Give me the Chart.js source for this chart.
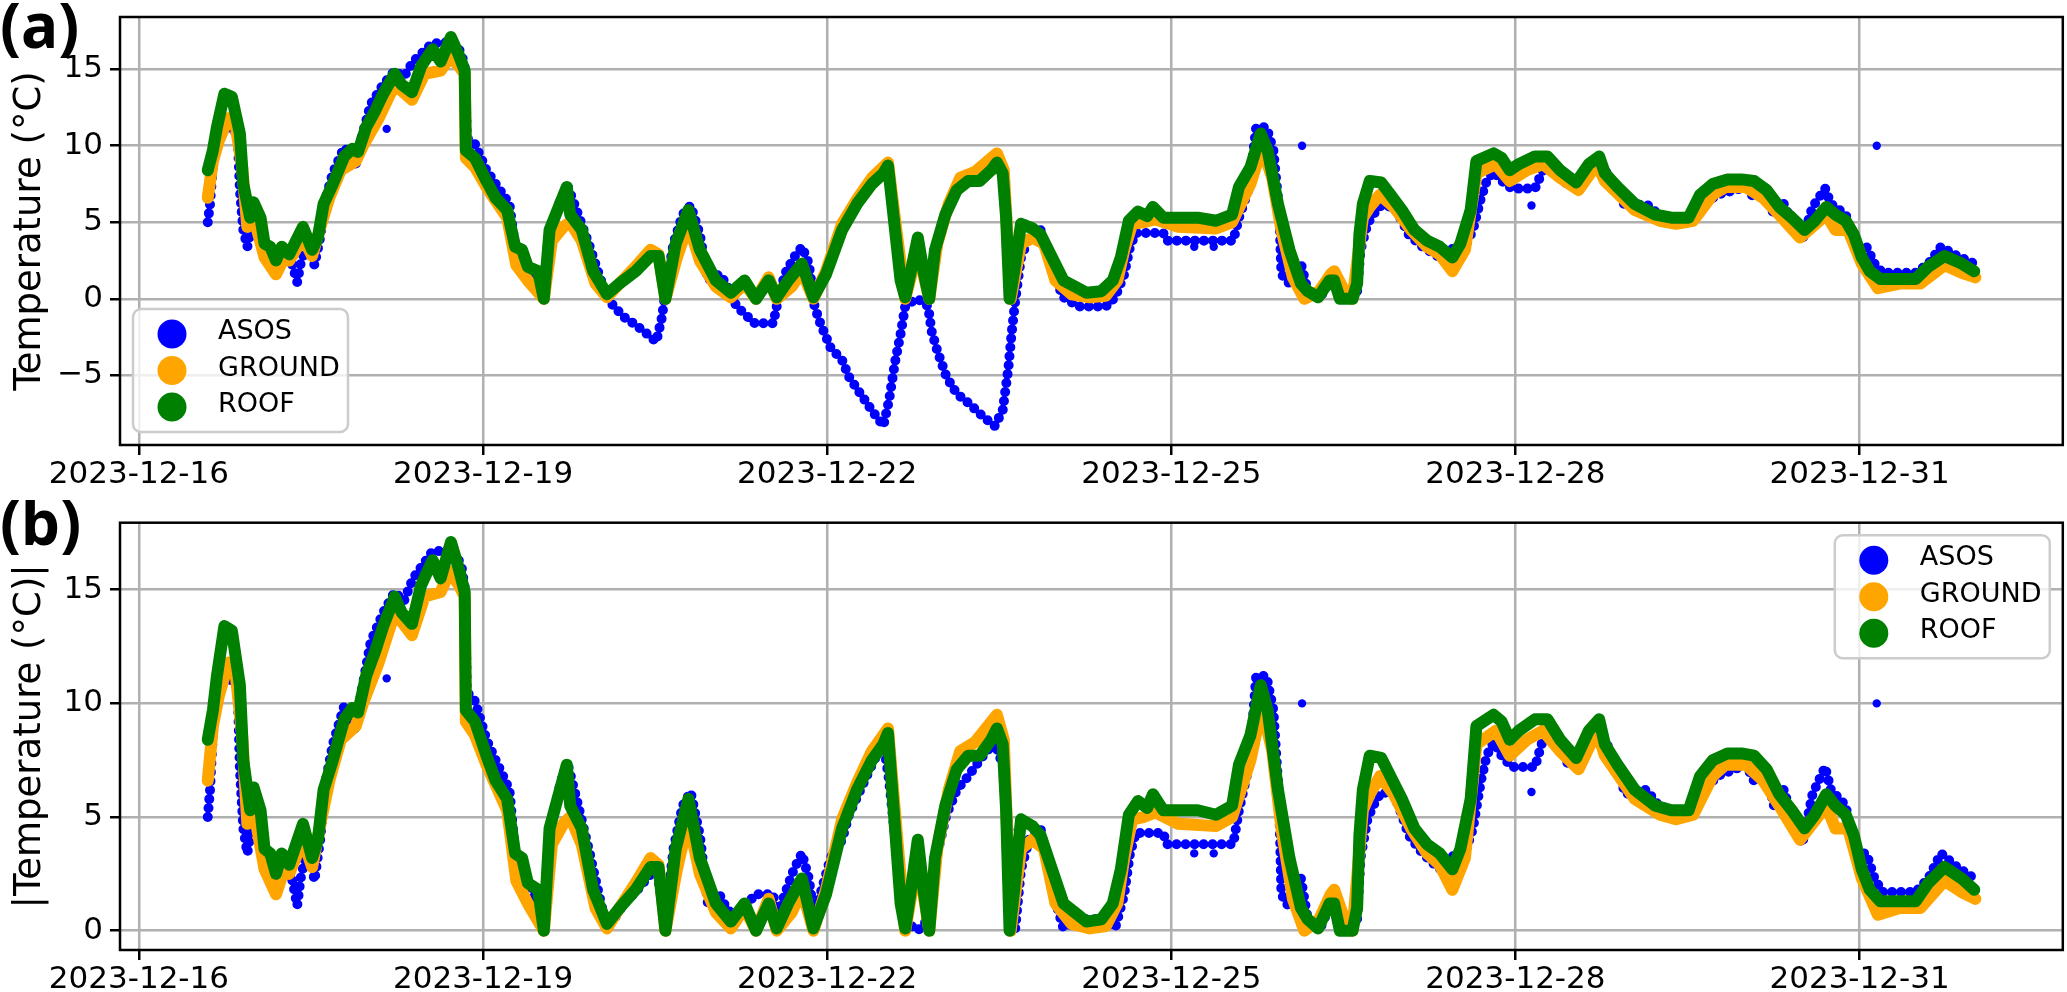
<!DOCTYPE html>
<html>
<head>
<meta charset="utf-8">
<script src="https://cdn.jsdelivr.net/npm/chart.js@4.4.0/dist/chart.umd.min.js"></script>
<style>
body { margin: 0; background: #fff; }
#wrap { position: relative; width: 2067px; height: 992px; }
canvas { position: absolute; left: 0; }
</style>
</head>
<body>
<div id="wrap">
<canvas id="chartA" width="2067" height="500" style="top:0px"></canvas>
<canvas id="chartB" width="2067" height="492" style="top:500px"></canvas>
</div>
<script>
// x values are days since 2023-12-16 00:00
var tickDays = [0, 3, 6, 9, 12, 15];
var tickLabels = ['2023-12-16', '2023-12-19', '2023-12-22', '2023-12-25', '2023-12-28', '2023-12-31'];
var yTicksA = [-5, 0, 5, 10, 15];
var yTicksB = [0, 5, 10, 15];

var roofDays = [0.60, 0.645, 0.68, 0.745, 0.81, 0.88, 0.91, 0.97, 1.0, 1.06, 1.095, 1.145, 1.195, 1.245, 1.31, 1.43, 1.51, 1.56, 1.61, 1.69,
    1.79, 1.86, 1.91, 1.98, 2.06, 2.13, 2.23, 2.29, 2.38, 2.46, 2.56, 2.63, 2.72, 2.79, 2.84, 2.85, 2.93, 3.03, 3.11, 3.21,
    3.28, 3.34, 3.39, 3.48, 3.53, 3.58, 3.66, 3.73, 3.76, 3.86, 3.96, 4.08, 4.19, 4.33, 4.46, 4.53, 4.59, 4.68, 4.79, 4.89,
    5.03, 5.16, 5.28, 5.38, 5.49, 5.56, 5.66, 5.78, 5.88, 5.99, 6.13, 6.26, 6.39, 6.49, 6.53, 6.58, 6.64, 6.68, 6.73, 6.79,
    6.84, 6.89, 6.94, 7.03, 7.13, 7.23, 7.33, 7.43, 7.48, 7.53, 7.56, 7.59, 7.63, 7.69, 7.79, 7.86, 7.96, 8.06, 8.16, 8.26,
    8.39, 8.49, 8.56, 8.63, 8.71, 8.79, 8.84, 8.93, 9.06, 9.23, 9.39, 9.53, 9.59, 9.69, 9.78, 9.84, 9.93, 10.03, 10.13, 10.19,
    10.28, 10.38, 10.42, 10.47, 10.58, 10.62, 10.64, 10.67, 10.73, 10.83, 10.91, 11.01, 11.12, 11.23, 11.34, 11.45, 11.52, 11.61, 11.66, 11.81,
    11.88, 11.95, 12.03, 12.17, 12.28, 12.39, 12.53, 12.64, 12.73, 12.78, 12.89, 13.04, 13.22, 13.36, 13.51, 13.61, 13.72, 13.85, 13.97, 14.08,
    14.19, 14.30, 14.41, 14.52, 14.61, 14.71, 14.79, 14.88, 14.95, 15.02, 15.09, 15.18, 15.35, 15.49, 15.60, 15.74, 15.89, 16.0];
var roofTemps = [8.4, 9.7, 11.2, 13.4, 13.2, 10.8, 7.5, 5.3, 6.3, 5.3, 3.6, 3.4, 2.5, 3.4, 2.9, 4.7, 3.2, 4.0, 6.2, 7.5,
    9.3, 9.8, 9.6, 11.2, 12.3, 13.4, 14.7, 14.0, 13.5, 15.2, 16.3, 15.5, 17.1, 15.9, 14.9, 9.7, 9.2, 7.7, 6.6, 5.8,
    3.4, 3.2, 2.1, 1.8, 0.0, 4.5, 6.0, 7.3, 5.5, 4.5, 1.8, 0.3, 1.0, 1.8, 2.8, 2.8, 0.0, 3.6, 5.8, 3.2,
    1.2, 0.4, 1.2, 0.0, 1.2, 0.1, 1.2, 2.3, 0.1, 1.6, 4.5, 6.2, 7.5, 8.2, 8.7, 5.3, 1.2, 0.1, 1.8, 4.0,
    1.8, 0.0, 3.2, 5.5, 7.1, 7.7, 7.7, 8.4, 8.9, 8.2, 5.3, 0.0, 1.8, 4.9, 4.6, 4.2, 2.7, 1.2, 0.8, 0.4,
    0.5, 1.2, 2.7, 5.1, 5.7, 5.4, 6.0, 5.3, 5.3, 5.3, 5.1, 5.5, 7.3, 8.6, 10.8, 9.7, 6.2, 3.2, 1.0, 0.5,
    0.1, 1.2, 1.2, 0.0, 0.0, 1.0, 4.2, 6.2, 7.7, 7.6, 6.8, 5.8, 4.5, 3.8, 3.4, 2.7, 3.6, 5.8, 9.0, 9.5,
    9.2, 8.4, 8.8, 9.3, 9.3, 8.4, 7.6, 8.8, 9.3, 8.2, 7.3, 6.2, 5.5, 5.3, 5.3, 6.8, 7.5, 7.8, 7.8, 7.7,
    7.1, 6.0, 5.3, 4.5, 5.1, 6.0, 5.5, 5.1, 4.2, 2.7, 1.8, 1.3, 1.3, 1.3, 2.1, 2.8, 2.3, 1.8];

var groundDays = [0.60, 0.645, 0.695, 0.78, 0.845, 0.90, 0.945, 0.995, 1.095, 1.195, 1.26, 1.31, 1.43, 1.51, 1.59, 1.66, 1.76, 1.89, 1.96, 2.09,
    2.23, 2.38, 2.49, 2.63, 2.71, 2.79, 2.84, 2.85, 2.93, 3.03, 3.21, 3.29, 3.39, 3.53, 3.60, 3.70, 3.76, 3.86, 3.98, 4.08,
    4.19, 4.33, 4.46, 4.53, 4.59, 4.69, 4.79, 4.89, 5.03, 5.16, 5.28, 5.38, 5.49, 5.56, 5.69, 5.78, 5.88, 5.99, 6.13, 6.26,
    6.39, 6.53, 6.59, 6.68, 6.79, 6.89, 6.96, 7.06, 7.16, 7.29, 7.48, 7.54, 7.60, 7.69, 7.79, 7.89, 7.99, 8.13, 8.29, 8.43,
    8.53, 8.59, 8.66, 8.76, 8.86, 9.06, 9.39, 9.53, 9.69, 9.79, 9.88, 9.96, 10.06, 10.16, 10.29, 10.39, 10.42, 10.51, 10.58, 10.67,
    10.73, 10.82, 10.94, 11.09, 11.23, 11.34, 11.45, 11.56, 11.66, 11.83, 11.95, 12.10, 12.24, 12.39, 12.55, 12.71, 12.78, 13.04, 13.26, 13.40,
    13.55, 13.72, 13.83, 14.01, 14.16, 14.30, 14.48, 14.62, 14.71, 14.79, 14.90, 15.02, 15.16, 15.35, 15.53, 15.74, 15.89, 16.01];
var groundTemps = [6.6, 9.0, 10.3, 11.8, 11.2, 8.6, 4.7, 5.5, 2.7, 1.6, 2.6, 2.5, 4.0, 2.8, 4.9, 6.6, 8.4, 9.0, 10.1, 11.8,
    14.0, 13.0, 14.7, 14.9, 15.8, 15.2, 14.7, 9.2, 8.6, 7.3, 5.3, 2.2, 1.2, 0.0, 3.8, 4.7, 5.0, 3.8, 1.0, 0.1,
    1.0, 2.1, 3.2, 2.9, 0.0, 2.7, 4.9, 2.5, 0.8, 0.1, 1.0, 0.0, 1.4, 0.0, 0.8, 1.8, 0.0, 1.8, 4.9, 6.5,
    7.9, 8.9, 5.3, 0.0, 3.2, 0.0, 3.6, 6.2, 7.9, 8.3, 9.5, 8.4, 0.0, 3.6, 4.0, 3.6, 1.2, 0.3, 0.1, 0.2,
    1.2, 3.2, 4.9, 5.0, 5.2, 4.7, 4.6, 5.0, 7.5, 9.9, 7.9, 4.5, 1.4, 0.0, 0.5, 1.6, 1.8, 0.5, 0.0, 5.3,
    6.0, 6.8, 6.0, 4.5, 3.4, 2.9, 1.8, 3.2, 8.2, 8.8, 7.7, 8.4, 8.8, 7.9, 7.1, 8.8, 7.7, 5.8, 5.1, 4.9,
    5.1, 6.8, 7.3, 7.3, 6.6, 5.5, 4.0, 4.9, 5.5, 4.5, 4.5, 2.3, 0.7, 1.0, 1.0, 2.2, 1.7, 1.4];

var asosDays = [0.60, 0.62, 0.64, 0.66, 0.75, 0.78, 0.86, 0.88, 0.91, 0.945, 0.98, 1.02, 1.095, 1.20, 1.30, 1.38, 1.41, 1.45, 1.50, 1.53,
    1.58, 1.63, 1.69, 1.79, 1.89, 1.94, 2.02, 2.13, 2.23, 2.31, 2.39, 2.49, 2.56, 2.64, 2.73, 2.81, 2.84, 2.86, 2.93, 3.03,
    3.11, 3.23, 3.28, 3.43, 3.53, 3.59, 3.68, 3.74, 3.83, 3.93, 4.01, 4.08, 4.14, 4.23, 4.33, 4.43, 4.51, 4.56, 4.59, 4.66,
    4.74, 4.81, 4.89, 4.96, 5.06, 5.12, 5.21, 5.37, 5.53, 5.56, 5.63, 5.71, 5.78, 5.84, 5.89, 5.94, 6.03, 6.13, 6.19, 6.29,
    6.39, 6.49, 6.54, 6.59, 6.64, 6.68, 6.71, 6.79, 6.88, 6.91, 6.96, 7.04, 7.13, 7.23, 7.36, 7.46, 7.53, 7.58, 7.61, 7.64,
    7.69, 7.76, 7.86, 7.96, 8.06, 8.19, 8.43, 8.51, 8.59, 8.64, 8.69, 8.93, 8.96, 9.54, 9.59, 9.68, 9.74, 9.83, 9.89, 9.94,
    9.96, 10.03, 10.13, 10.19, 10.29, 10.39, 10.51, 10.62, 10.65, 10.71, 10.76, 10.83, 10.94, 11.01, 11.07, 11.19, 11.34, 11.48, 11.56, 11.63,
    11.70, 11.75, 11.81, 11.88, 11.97, 12.17, 12.24, 12.35, 12.46, 12.57, 12.71, 12.86, 12.96, 13.14, 13.25, 13.54, 13.65, 13.76, 14.01, 14.08,
    14.19, 14.25, 14.34, 14.41, 14.50, 14.59, 14.70, 14.75, 14.88, 14.95, 15.06, 15.13, 15.20, 15.49, 15.60, 15.71, 15.85, 16.00];
var asosTemps = [5.0, 6.2, 8.2, 10.1, 11.5, 11.1, 10.8, 7.1, 4.5, 3.4, 4.5, 4.9, 3.2, 2.5, 3.2, 1.1, 2.3, 3.2, 3.2, 2.2,
    4.0, 6.6, 8.2, 9.9, 8.8, 10.5, 12.7, 14.0, 14.9, 14.5, 15.5, 16.2, 16.7, 16.7, 16.8, 16.1, 15.1, 10.5, 10.1, 8.4,
    7.5, 6.2, 3.4, 1.8, 0.0, 4.5, 6.6, 7.3, 5.5, 3.4, 1.6, 0.1, -0.5, -1.2, -1.7, -2.3, -2.8, -1.2, 0.5, 3.6,
    5.5, 6.1, 4.2, 1.2, 1.6, 1.0, -0.5, -1.6, -1.6, -0.5, 1.6, 2.7, 3.4, 2.3, -0.5, -1.6, -3.2, -4.0, -5.1, -6.2,
    -7.3, -8.3, -6.6, -4.2, -2.3, -0.5, -0.3, 0.0, -0.5, -2.1, -3.4, -5.1, -6.2, -6.8, -7.7, -8.3, -7.3, -4.5, -2.1, -0.1,
    2.7, 4.0, 4.5, 1.8, 0.1, -0.5, -0.5, 0.1, 1.6, 3.4, 4.3, 4.3, 3.8, 3.8, 5.3, 7.3, 11.2, 11.2, 9.7, 5.8,
    1.6, 1.0, 2.3, 0.5, 0.0, 1.2, 0.0, 0.5, 3.2, 4.9, 5.5, 6.1, 6.0, 5.1, 4.2, 3.4, 2.7, 3.4, 3.4, 4.5,
    6.6, 7.7, 8.3, 7.7, 7.2, 7.2, 8.4, 8.8, 7.3, 7.9, 9.2, 7.5, 6.0, 6.2, 5.5, 5.0, 6.2, 6.8, 7.3, 6.6,
    7.3, 5.5, 6.2, 5.0, 3.8, 6.0, 7.2, 6.2, 5.5, 3.4, 3.4, 2.3, 1.7, 1.7, 2.3, 3.4, 2.8, 2.3];

// single ASOS readings standing apart from the rest
var asosLoneDays = [2.16, 9.20, 9.37, 10.14, 12.14, 15.15];
var asosLoneTemps = [11.1, 3.4, 3.4, 10.0, 6.1, 10.0];

var seriesNames = ['ASOS', 'GROUND', 'ROOF'];
var seriesColors = ['#0000ff', '#ffa500', '#008000'];

var xMin = -0.165;
var xMax = 16.772;

Chart.defaults.font.family = 'DejaVu Sans';
Chart.defaults.color = '#000';

function points(days, temps, useAbs) {
    return days.map(function (d, i) {
        return { x: d, y: useAbs ? Math.abs(temps[i]) : temps[i] };
    });
}

var decoPlugin = {
    id: 'deco',
    afterDraw: function (chart, args, opts) {
        var ctx = chart.ctx;
        var a = chart.chartArea;
        ctx.save();
        ctx.strokeStyle = '#000';
        ctx.lineWidth = 2.5;
        ctx.strokeRect(a.left, a.top, a.right - a.left, a.bottom - a.top);

        var w = 215, h = 123;
        var bx, by;
        if (opts.corner === 'lowerleft') {
            bx = a.left + 13;
            by = a.bottom - 13 - h;
        } else {
            bx = a.right - 13 - w;
            by = a.top + 12.5;
        }
        ctx.beginPath();
        ctx.roundRect(bx, by, w, h, 8);
        ctx.fillStyle = 'rgba(255,255,255,0.8)';
        ctx.fill();
        ctx.strokeStyle = '#cccccc';
        ctx.lineWidth = 2.5;
        ctx.stroke();
        var rows = [25, 61.5, 98];
        ctx.font = '27px "DejaVu Sans"';
        ctx.textBaseline = 'middle';
        for (var i = 0; i < seriesNames.length; i++) {
            ctx.beginPath();
            ctx.arc(bx + 39, by + rows[i], 14.5, 0, Math.PI * 2);
            ctx.fillStyle = seriesColors[i];
            ctx.fill();
            ctx.fillStyle = '#000';
            ctx.fillText(seriesNames[i], bx + 85, by + rows[i] - 2);
        }

        ctx.font = 'bold 62px "Noto Sans"';
        ctx.textBaseline = 'alphabetic';
        ctx.fillText(opts.tag, 0, opts.tagY);
        ctx.restore();
    }
};

function createPanel(id, p) {
    var ctx = document.getElementById(id).getContext('2d');
    return new Chart(ctx, {
        type: 'scatter',
        data: {
            datasets: [{
                label: 'ROOF',
                data: points(roofDays, roofTemps, p.abs),
                showLine: true,
                borderColor: seriesColors[2],
                borderWidth: 12,
                borderJoinStyle: 'round',
                borderCapStyle: 'round',
                pointRadius: 0,
                order: 0
            }, {
                label: 'GROUND',
                data: points(groundDays, groundTemps, p.abs),
                showLine: true,
                borderColor: seriesColors[1],
                borderWidth: 12,
                borderJoinStyle: 'round',
                borderCapStyle: 'round',
                pointRadius: 0,
                order: 1
            }, {
                label: 'ASOS',
                data: points(asosDays, asosTemps, p.abs),
                showLine: true,
                borderColor: seriesColors[0],
                borderWidth: 10,
                borderDash: [0, 9],
                borderJoinStyle: 'round',
                borderCapStyle: 'round',
                pointRadius: 0,
                order: 2
            }, {
                label: 'ASOS single',
                data: points(asosLoneDays, asosLoneTemps, p.abs),
                showLine: false,
                backgroundColor: seriesColors[0],
                borderWidth: 0,
                pointRadius: 4.2,
                order: 3
            }]
        },
        options: {
            responsive: false,
            animation: false,
            devicePixelRatio: 1,
            layout: { padding: { top: p.top, right: 2, bottom: 0, left: 0 } },
            plugins: {
                legend: { display: false },
                tooltip: { enabled: false },
                deco: { tag: p.tag, tagY: p.tagY, corner: p.corner }
            },
            scales: {
                x: {
                    type: 'linear',
                    min: xMin,
                    max: xMax,
                    z: 1,
                    afterBuildTicks: function (s) {
                        s.ticks = tickDays.map(function (v) { return { value: v }; });
                    },
                    afterFit: function (s) {
                        s.height = p.xHeight;
                        s.paddingLeft = 0;
                        s.paddingRight = 0;
                    },
                    ticks: {
                        callback: function (v, i) { return tickLabels[i]; },
                        font: { size: 31 },
                        color: '#000',
                        padding: 1,
                        maxRotation: 0,
                        autoSkip: false
                    },
                    grid: { color: '#b0b0b0', lineWidth: 2.5, tickLength: 10, tickColor: '#000', tickWidth: 2.5 },
                    border: { display: false }
                },
                y: {
                    min: p.yMin,
                    max: p.yMax,
                    z: 1,
                    afterBuildTicks: function (s) {
                        s.ticks = p.yTicks.map(function (v) { return { value: v }; });
                    },
                    afterFit: function (s) {
                        s.width = 120;
                        s.paddingTop = 0;
                        s.paddingBottom = 0;
                    },
                    ticks: {
                        callback: function (v) { return v < 0 ? '\u2212' + Math.abs(v) : String(v); },
                        font: { size: 31 },
                        color: '#000',
                        padding: 7
                    },
                    grid: { color: '#b0b0b0', lineWidth: 2.5, tickLength: 10, tickColor: '#000', tickWidth: 2.5 },
                    border: { display: false },
                    title: {
                        display: true,
                        text: p.title,
                        font: { size: 37 },
                        color: '#000',
                        padding: { top: 8, bottom: 0 }
                    }
                }
            }
        },
        plugins: [decoPlugin]
    });
}

createPanel('chartA', {
    abs: false, top: 17, xHeight: 55, yMin: -9.55, yMax: 18.41, yTicks: yTicksA,
    title: 'Temperature (\u00B0C)', tag: '(a)', tagY: 48, corner: 'lowerleft'
});
createPanel('chartB', {
    abs: true, top: 22.7, xHeight: 42, yMin: -0.85, yMax: 17.95, yTicks: yTicksB,
    title: '|Temperature (\u00B0C)|', tag: '(b)', tagY: 45, corner: 'upperright'
});
</script>
</body>
</html>
